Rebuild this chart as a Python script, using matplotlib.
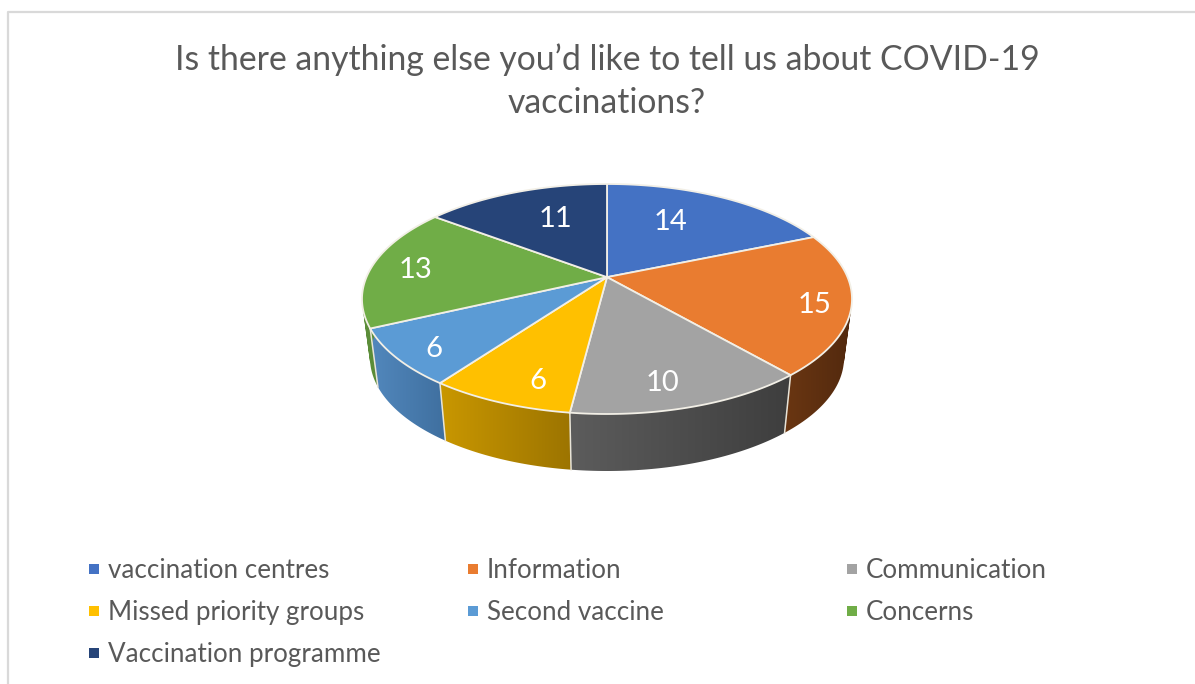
import matplotlib
matplotlib.use('Agg')
import matplotlib.pyplot as plt
import matplotlib.colors as mcolors
from matplotlib.patches import Polygon, Rectangle, PathPatch
from matplotlib.path import Path
import numpy as np

plt.rcParams['font.family'] = ['Lato', 'DejaVu Sans']

title = 'Is there anything else you\u2019d like to tell us about COVID-19\nvaccinations?'
categories = ['vaccination centres', 'Information', 'Communication',
              'Missed priority groups', 'Second vaccine', 'Concerns',
              'Vaccination programme']
values = [14, 15, 10, 6, 6, 13, 11]
top_colors = ['#4472C4', '#E97C30', '#A3A3A3', '#FFC000', '#5B9BD5', '#70AD47', '#264478']
# rim shading, left colour then right colour of each slice
side_left = ['#3a5fa0', '#6a3612', '#5c5c5c', '#c99700', '#5288bd', '#5d8f3a', '#1c3358']
side_right = ['#2a4478', '#52290e', '#3e3e3e', '#9c7400', '#3f6f9f', '#4a7a2e', '#142644']

# layout in image pixels
label_xy = [(671, 222), (815, 305), (663, 383), (538, 381), (434, 349), (416, 270), (556, 219)]
legend_x = [89, 468, 847]
legend_y = [569, 611, 653]

cx, cy, rx, ry = 607, 299, 245, 115
bcx, bcy, brx, bry = 607, 358, 237, 113
shift = 0.19      # tilt: pie centre sits above the ellipse centre


def project(theta):
    # theta clockwise from the top of the pie, perspective onto the ellipse
    u, v = np.sin(theta), np.cos(theta)
    d = 1 + shift * v
    return u * np.sqrt(1 - shift ** 2) / d, (v + shift) / d


def swept_path(x1, y1, x2, y2):
    # all quads wound the same way so the union fills without holes
    quads = []
    for k in range(len(x1) - 1):
        q = np.array([(x1[k], y1[k]), (x1[k + 1], y1[k + 1]), (x2[k + 1], y2[k + 1]), (x2[k], y2[k]), (x1[k], y1[k])])
        area = np.sum(q[:-1, 0] * q[1:, 1] - q[1:, 0] * q[:-1, 1])
        if area < 0:
            q = q[::-1]
        quads.append(Path(q, closed=True))
    return Path.make_compound_path(*quads)


fig = plt.figure(figsize=(11.95, 6.84), dpi=100)
ax = fig.add_axes([0, 0, 1, 1])

# chart frame
ax.plot([8.5, 8.5, 1195], [684, 11.5, 11.5], color='#D9D9D9', lw=1.6, solid_capstyle='butt')

edges = np.cumsum([0] + values) / sum(values) * 2 * np.pi
apex = (cx, cy - shift * ry)

# rim, a horizontal gradient clipped to each slice's outer band
for i in range(len(values)):
    t = np.linspace(edges[i], edges[i + 1], 80)
    u, v = project(t)
    x1, y1 = cx + rx * u, cy - ry * v
    x2, y2 = bcx + brx * u, bcy - bry * v
    patch = PathPatch(swept_path(x1, y1, x2, y2), facecolor='none', edgecolor='none', zorder=2)
    ax.add_patch(patch)
    c0 = np.array(mcolors.to_rgb(side_left[i]))
    c1 = np.array(mcolors.to_rgb(side_right[i]))
    grad = np.linspace(0, 1, 128)[None, :, None]
    img = c0 + (c1 - c0) * grad
    xs = np.r_[x1, x2]
    ys = np.r_[y1, y2]
    im = ax.imshow(img, extent=[xs.min(), xs.max(), ys.max(), ys.min()],
                   aspect='auto', zorder=2, interpolation='bilinear')
    im.set_clip_path(patch)
    if v[0] < 0.1:
        ax.plot([x1[0], x2[0]], [y1[0], y2[0]], color='#e8e4d8', lw=1.1, zorder=3)

ax.set_xlim(0, 1195)
ax.set_ylim(684, 0)
ax.axis('off')

# top face
for i in range(len(values)):
    t = np.linspace(edges[i], edges[i + 1], 80)
    u, v = project(t)
    pts = [apex] + list(zip(cx + rx * u, cy - ry * v))
    ax.add_patch(Polygon(pts, closed=True, facecolor=top_colors[i], edgecolor='#F2EFE6', lw=1.3, zorder=4))

for (lx, ly), val in zip(label_xy, values):
    ax.text(lx, ly, str(val), color='white', fontsize=21, ha='center', va='center', zorder=5)

ax.text(607, 81, title, color='#595959', fontsize=24.3, ha='center', va='center', linespacing=1.42)

for i, name in enumerate(categories):
    col = legend_x[i % 3]
    row = legend_y[i // 3]
    ax.add_patch(Rectangle((col, row - 5), 10, 10, facecolor=top_colors[i], edgecolor='none'))
    ax.text(col + 19, row + 1.5, name, color='#595959', fontsize=18.7, ha='left', va='center')

fig.savefig('out.png', dpi=100)
